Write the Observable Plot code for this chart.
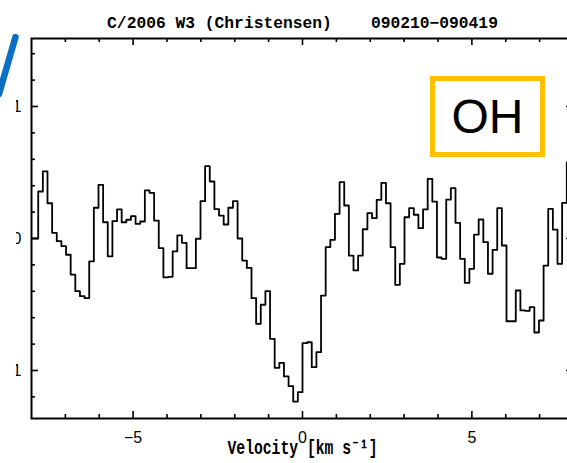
<!DOCTYPE html>
<html><head><meta charset="utf-8">
<script src="https://cdn.jsdelivr.net/npm/d3@7"></script>
<script src="https://cdn.jsdelivr.net/npm/@observablehq/plot@0.6"></script>
<style>
html,body{margin:0;padding:0;overflow:hidden;background:#fff;width:567px;height:463px}
#clip{position:absolute;left:16px;top:0;width:551px;height:463px;overflow:hidden}
#clip svg{position:absolute;left:-16px;top:0;max-width:none !important}
#oh{position:absolute;left:430px;top:76px;width:115px;height:81px;box-sizing:border-box;border:5px solid #FFC000;display:flex;align-items:center;justify-content:center;font:48px "Liberation Sans",Arial,sans-serif;color:#000}
#logo{position:absolute;left:0;top:0}
</style></head><body>
<div id="clip"></div>
<svg id="logo" width="30" height="110"><line x1="15.5" y1="37" x2="-1" y2="94" stroke="#0A70C4" stroke-width="6.5" stroke-linecap="round"/></svg>
<div id="oh">OH</div>
<script>
// Spectrum: flux density (Jy) per channel
const flux = [
  0.0000, 0.0000, 0.0356, 0.0508, 0.0267, 0.0043, -0.0020, -0.0058, -0.0123, -0.0273,
 -0.0399, -0.0437, -0.0452, -0.0174, 0.0233, 0.0407, 0.0123, -0.0136, 0.0131, 0.0220,
  0.0123, 0.0142, 0.0169, 0.0111, 0.0129, 0.0364, 0.0346, 0.0136, -0.0073, -0.0295,
 -0.0290, -0.0098, 0.0023, -0.0033, -0.0225, -0.0225, -0.0002, 0.0283, 0.0548, 0.0432,
  0.0222, 0.0174, 0.0106, 0.0233, 0.0283, 0.0000, -0.0167, -0.0223, -0.0452, -0.0646,
 -0.0502, -0.0399, -0.0760, -0.0980, -0.0942, -0.1045, -0.1119, -0.1235, -0.1164, -0.0793,
 -0.0786, -0.0975, -0.0861, -0.0432, -0.0066, -0.0010, 0.0187, 0.0427, 0.0250, -0.0129,
 -0.0242, -0.0129, 0.0070, 0.0192, 0.0154, 0.0293, 0.0422, 0.0267, -0.0066, -0.0351,
 -0.0192, 0.0161, 0.0230, 0.0180, 0.0078, 0.0220, 0.0452, 0.0280, -0.0144, -0.0154,
  0.0295, 0.0381, 0.0119, -0.0154, -0.0336, -0.0230, 0.0030, 0.0144, -0.0028, -0.0267,
 -0.0086, 0.0230, -0.0053, -0.0627, -0.0627, -0.0394, -0.0545, -0.0548, -0.0520, -0.0712,
 -0.0621, -0.0205, 0.0225, 0.0068, -0.0192, 0.0270, 0.0576, 0.0500
];
// channel grid (km/s): first channel centre and channel width
const firstChannel = -8.007;
const channelWidth = 0.13687;

const xMajor = [-5, 0, 5];
const xMinor = [-7, -6, -4, -3, -2, -1, 1, 2, 3, 4, 6, 7];
const yMajor = [-0.1, 0, 0.1];
const yMinor = [-0.12, -0.08, -0.06, -0.04, -0.02, 0.02, 0.04, 0.06, 0.08, 0.12, 0.14];
const xDomain = [-8, 8];
const yDomain = [-0.13636, 0.15152];
const title = "C/2006 W3 (Christensen)\u00a0\u00a0\u00a0\u00a0090210\u2212090419";
const xLabel = "Velocity [km s\u207B\u00B9]";

const spectrum = flux.map((f, i) => ({v: firstChannel + i * channelWidth, f}));
const fmt = d => d === 0 ? "0" : (d < 0 ? "\u2212" : "") + Math.abs(d);

const W = 580, H = 463, mL = 31, mR = 7, mT = 38, mB = 45;
const fw = W - mL - mR, fh = H - mT - mB;
const tk = {stroke: "#000", strokeWidth: 1.6};

const chart = Plot.plot({
  width: W, height: H,
  marginLeft: mL, marginRight: mR, marginTop: mT, marginBottom: mB,
  style: {fontSize: "16px", fontFamily: "'Liberation Sans', Arial, sans-serif", background: "#fff", maxWidth: "none", color: "#000"},
  x: {domain: xDomain},
  y: {domain: yDomain},
  marks: [
    Plot.ruleX(xMinor, {x: d => d, insetTop: fh - 4, ...tk}),
    Plot.ruleX(xMinor, {x: d => d, insetBottom: fh - 4, ...tk}),
    Plot.ruleX(xMajor, {x: d => d, insetTop: fh - 7, ...tk}),
    Plot.ruleX(xMajor, {x: d => d, insetBottom: fh - 7, ...tk}),
    Plot.ruleY(yMinor, {y: d => d, insetRight: fw - 4, ...tk}),
    Plot.ruleY(yMinor, {y: d => d, insetLeft: fw - 4, ...tk}),
    Plot.ruleY(yMajor, {y: d => d, insetRight: fw - 7, ...tk}),
    Plot.ruleY(yMajor, {y: d => d, insetLeft: fw - 7, ...tk}),
    Plot.line(spectrum, {x: "v", y: "f", curve: "step", stroke: "#000", strokeWidth: 1.8, clip: true}),
    Plot.frame({stroke: "#000", strokeWidth: 2}),
    Plot.axisX({ticks: xMajor, tickSize: 0, tickPadding: 13.5, label: null, tickFormat: fmt, fontSize: 16}),
    Plot.axisY({ticks: yMajor, tickSize: 0, tickPadding: 10, label: null, tickFormat: fmt, fontSize: 16}),
    Plot.text([title], {text: d => d, frameAnchor: "top", dy: -22, fontSize: 16.3, fontFamily: "'Liberation Mono', monospace", fontWeight: "bold"}),
    Plot.text([xLabel], {text: d => d, frameAnchor: "bottom", dy: 35.5, fontSize: 21, fontFamily: "'Liberation Mono', monospace", fontWeight: "bold"})
  ]
});
document.getElementById("clip").appendChild(chart);
chart.querySelectorAll("text").forEach(t => {
  if (t.textContent === xLabel) {
    t.setAttribute("textLength", "150");
    t.setAttribute("lengthAdjust", "spacingAndGlyphs");
  }
});
</script>
</body></html>
